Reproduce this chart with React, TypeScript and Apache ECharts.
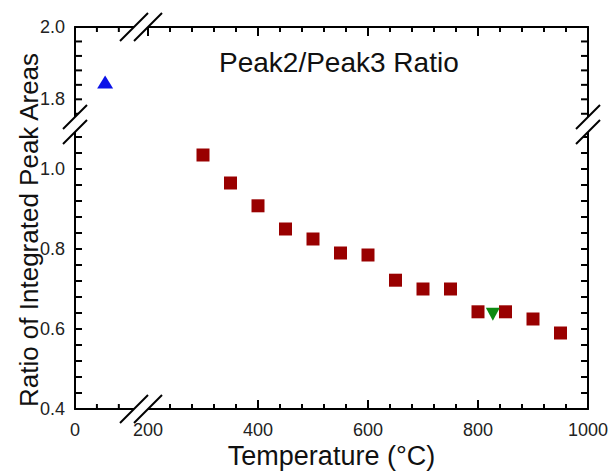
import React, { useEffect, useRef } from "react";
import * as echarts from "echarts";

// ---- data ----
const roomTemp = [55];
const roomRatio = [1.848];
const annealTemps = [300, 350, 400, 450, 500, 550, 600, 650, 700, 750, 800, 850, 900, 950];
const annealRatios = [1.035, 0.965, 0.908, 0.85, 0.825, 0.79, 0.785, 0.722, 0.7, 0.7, 0.643, 0.643, 0.625, 0.59];
const greenTemp = [827];
const greenRatio = [0.637];

// ---- tick labels ----
const xLeftLabels = [0];
const xRightLabels = [200, 400, 600, 800, 1000];
const yTopLabels = [1.8, 2.0];
const yBottomLabels = [0.4, 0.6, 0.8, 1.0];

// ---- tick marks ----
const xLeftMinor = [40, 80];
const xRightMajor = [200, 400, 600, 800, 1000];
const xRightMinor = [240, 280, 320, 360, 440, 480, 520, 560, 640, 680, 720, 760, 840, 880, 920, 960];
const yTopTicks = [1.76, 1.8, 1.84, 1.88, 1.92, 1.96, 2.0];
const yBottomTicks = [0.4, 0.44, 0.48, 0.52, 0.56, 0.6, 0.64, 0.68, 0.72, 0.76, 0.8, 0.84, 0.88, 0.92, 0.96, 1.0, 1.04, 1.08];

// ---- axis ranges ----
const xLeftRange = [0, 115];
const xRightRange = [200, 1000];
const yTopRange = [1.74, 2.0];
const yBottomRange = [0.4, 1.1];

const FONT = "'Liberation Sans', Arial, sans-serif";

// layout (px)
const LX = 75, LW = 63, RX = 148, RW = 440;
const TY = 27, TH = 94, BY = 129, BH = 280;

function axisDef(
  gridIndex: number,
  position: string,
  range: number[],
  labels: number[] | null,
  fmt: (v: number) => string,
  margin: number
) {
  return {
    type: "value",
    gridIndex,
    position,
    min: range[0],
    max: range[1],
    axisLine: { show: true, onZero: false, lineStyle: { color: "#000", width: 2 } },
    axisTick: { show: false },
    axisLabel: labels
      ? {
          show: true,
          customValues: labels,
          formatter: fmt,
          margin,
          color: "#222",
          fontSize: 18,
          fontFamily: FONT,
        }
      : { show: false },
    splitLine: { show: false },
  };
}

// tick marks as thin rect symbols placed through the grid's own axes
function tickSeries(
  grid: number,
  values: number[],
  along: "x" | "y",
  edgeValue: number,
  dx: number,
  dy: number,
  len: number
) {
  return {
    type: "scatter",
    xAxisIndex: grid,
    yAxisIndex: grid,
    silent: true,
    clip: false,
    z: 3,
    symbol: "rect",
    symbolSize: along === "x" ? [2, len] : [len, 2],
    symbolOffset: [(dx * len) / 2, (dy * len) / 2],
    itemStyle: { color: "#000", opacity: 1 },
    emphasis: { disabled: true },
    data: values.map((v) => (along === "x" ? [v, edgeValue] : [edgeValue, v])),
  };
}

const fx = (v: number) => String(v);
const fy = (v: number) => v.toFixed(1);

export default function App() {
  const ref = useRef<HTMLDivElement>(null);
  useEffect(() => {
    document.body.style.margin = "0";
    const chart = echarts.init(ref.current!, null, { renderer: "svg" });

    const xBot = BY + BH; // 409
    const yTop = TY;
    const xLeftEdge = LX;
    const xRightEdge = RX + RW;
    const bx1 = 134, bx2 = 148;
    const by1 = 117, by2 = 132;
    const white = { fill: "#fff" };
    const black = { stroke: "#000", lineWidth: 2 };

    const graphic: any[] = [
      // white gaps in the frame
      { type: "polygon", z: 100, shape: { points: [[bx1 + 11, xBot - 11], [bx1 - 4, xBot + 4], [bx2 - 4, xBot + 4], [bx2 + 11, xBot - 11]] }, style: white },
      { type: "polygon", z: 100, shape: { points: [[bx1 + 4, yTop - 4], [bx1 - 11, yTop + 11], [bx2 - 11, yTop + 11], [bx2 + 4, yTop - 4]] }, style: white },
      { type: "polygon", z: 100, shape: { points: [[xLeftEdge - 4, by1 + 4], [xLeftEdge + 10, by1 - 10], [xLeftEdge + 10, by2 - 10], [xLeftEdge - 4, by2 + 4]] }, style: white },
      { type: "polygon", z: 100, shape: { points: [[xRightEdge - 10, by1 + 10], [xRightEdge + 4, by1 - 4], [xRightEdge + 4, by2 - 4], [xRightEdge - 10, by2 + 10]] }, style: white },
      // break slashes
      ...[bx1, bx2].flatMap((c) => [
        { type: "line", z: 101, shape: { x1: c - 14, y1: xBot + 14, x2: c + 14, y2: xBot - 14 }, style: black },
        { type: "line", z: 101, shape: { x1: c - 14, y1: yTop + 14, x2: c + 14, y2: yTop - 14 }, style: black },
      ]),
      ...[by1, by2].flatMap((c) => [
        { type: "line", z: 101, shape: { x1: xLeftEdge - 12, y1: c + 12, x2: xLeftEdge + 12, y2: c - 12 }, style: black },
        { type: "line", z: 101, shape: { x1: xRightEdge - 12, y1: c + 12, x2: xRightEdge + 12, y2: c - 12 }, style: black },
      ]),
      // axis names
      {
        type: "text",
        z: 102,
        x: (LX + RX + RW) / 2,
        y: 456,
        style: {
          text: "Temperature (°C)",
          fontSize: 27,
          fontFamily: FONT,
          fill: "#111",
          textAlign: "center",
          textVerticalAlign: "middle",
        },
      },
      {
        type: "text",
        z: 102,
        x: 29,
        y: 230,
        rotation: Math.PI / 2,
        style: {
          text: "Ratio of Integrated Peak Areas",
          fontSize: 26,
          fontFamily: FONT,
          fill: "#111",
          textAlign: "center",
          textVerticalAlign: "middle",
        },
      },
    ];

    const option: any = {
      animation: false,
      backgroundColor: "#fff",
      title: {
        text: "Peak2/Peak3 Ratio",
        left: 214,
        top: 43,
        textStyle: { fontSize: 28, fontWeight: "normal", color: "#111", fontFamily: FONT },
      },
      grid: [
        { left: LX, top: TY, width: LW, height: TH },
        { left: RX, top: TY, width: RW, height: TH },
        { left: LX, top: BY, width: LW, height: BH },
        { left: RX, top: BY, width: RW, height: BH },
      ],
      xAxis: [
        axisDef(0, "top", xLeftRange, null, fx, 0),
        axisDef(1, "top", xRightRange, null, fx, 0),
        axisDef(2, "bottom", xLeftRange, xLeftLabels, fx, 12),
        axisDef(3, "bottom", xRightRange, xRightLabels, fx, 12),
      ],
      yAxis: [
        axisDef(0, "left", yTopRange, yTopLabels, fy, 10),
        axisDef(1, "right", yTopRange, null, fy, 0),
        axisDef(2, "left", yBottomRange, yBottomLabels, fy, 10),
        axisDef(3, "right", yBottomRange, null, fy, 0),
      ],
      series: [
        // top edge
        tickSeries(0, xLeftMinor, "x", yTopRange[1], 0, 1, 5),
        tickSeries(1, xRightMajor, "x", yTopRange[1], 0, 1, 9),
        tickSeries(1, xRightMinor, "x", yTopRange[1], 0, 1, 5),
        // bottom edge
        tickSeries(2, xLeftMinor, "x", yBottomRange[0], 0, -1, 5),
        tickSeries(3, xRightMajor, "x", yBottomRange[0], 0, -1, 9),
        tickSeries(3, xRightMinor, "x", yBottomRange[0], 0, -1, 5),
        // left edge
        tickSeries(0, yTopTicks, "y", xLeftRange[0], 1, 0, 7),
        tickSeries(2, yBottomTicks, "y", xLeftRange[0], 1, 0, 7),
        // right edge
        tickSeries(1, yTopTicks, "y", xRightRange[1], -1, 0, 7),
        tickSeries(3, yBottomTicks, "y", xRightRange[1], -1, 0, 7),
        {
          name: "Room temperature",
          type: "scatter",
          xAxisIndex: 0,
          yAxisIndex: 0,
          symbol: "triangle",
          symbolSize: [16, 13],
          itemStyle: { color: "#0b12e8", opacity: 1 },
          data: roomTemp.map((t, i) => [t, roomRatio[i]]),
        },
        {
          name: "Annealed",
          type: "scatter",
          xAxisIndex: 3,
          yAxisIndex: 3,
          symbol: "rect",
          symbolSize: 13,
          itemStyle: { color: "#990000", opacity: 1 },
          data: annealTemps.map((t, i) => [t, annealRatios[i]]),
        },
        {
          name: "Other",
          type: "scatter",
          xAxisIndex: 3,
          yAxisIndex: 3,
          symbol: "triangle",
          symbolRotate: 180,
          symbolSize: [14, 13],
          itemStyle: { color: "#0d8a12", opacity: 1 },
          data: greenTemp.map((t, i) => [t, greenRatio[i]]),
        },
      ],
      graphic,
    };
    chart.setOption(option);
    return () => chart.dispose();
  }, []);
  return <div ref={ref} style={{ width: 613, height: 473 }} />;
}
